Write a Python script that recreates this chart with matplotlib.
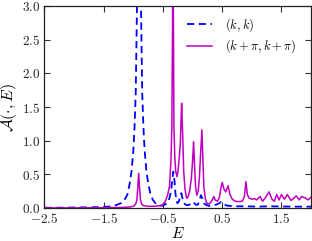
import matplotlib
matplotlib.use("Agg")
import matplotlib.pyplot as plt
from matplotlib.ticker import FixedLocator, FuncFormatter

plt.rcParams['mathtext.fontset'] = 'cm'
plt.rcParams['font.family'] = ['DejaVu Serif']

# (k, k) spectral function
E_kk = [-2.5, -2.2, -2.0, -1.8, -1.6, -1.5, -1.4, -1.3, -1.2, -1.15, -1.10, -1.06, -1.03,
        -1.0, -0.98, -0.96, -0.945, -0.93, -0.92, -0.905, -0.89, -0.88, -0.865, -0.85,
        -0.83, -0.81, -0.78, -0.75, -0.71, -0.67, -0.61, -0.55, -0.5, -0.45, -0.42, -0.39,
        -0.365, -0.345, -0.325, -0.305, -0.29, -0.27, -0.255, -0.23, -0.205, -0.19, -0.175,
        -0.15, -0.12, -0.09, -0.05, -0.02, 0.0, 0.03, 0.06, 0.09, 0.12, 0.14, 0.16, 0.19,
        0.23, 0.28, 0.33, 0.4, 0.45, 0.48, 0.52, 0.58, 0.7, 0.9, 1.1, 1.3, 1.5, 1.7, 2.0]
A_kk = [0.003, 0.005, 0.007, 0.010, 0.013, 0.015, 0.022, 0.04, 0.075, 0.12, 0.2, 0.37, 0.55,
        0.86, 1.2, 1.7, 2.6, 3.6, 4.5, 5.0, 4.5, 3.6, 2.6, 1.7,
        1.2, 0.86, 0.55, 0.37, 0.2, 0.12, 0.05, 0.035, 0.035, 0.06, 0.08, 0.15,
        0.24, 0.4, 0.54, 0.4, 0.22, 0.1, 0.07, 0.1, 0.18, 0.22, 0.16,
        0.08, 0.05, 0.04, 0.05, 0.08, 0.09, 0.07, 0.045, 0.05, 0.12, 0.19, 0.15, 0.07,
        0.045, 0.03, 0.035, 0.05, 0.07, 0.09, 0.06, 0.035, 0.025, 0.025, 0.02, 0.025, 0.022, 0.02, 0.02]

# (k+pi, k+pi) spectral function
E_kp = [-2.5, -2.0, -1.5, -1.2, -1.05, -0.99, -0.96, -0.94, -0.925, -0.91, -0.895, -0.88,
        -0.86, -0.83, -0.75, -0.65, -0.55, -0.51, -0.48, -0.45, -0.42, -0.39, -0.365, -0.35,
        -0.34, -0.332, -0.322, -0.315, -0.30, -0.285, -0.264, -0.245, -0.225, -0.207, -0.195,
        -0.185, -0.175, -0.163, -0.15, -0.13, -0.11, -0.096, -0.075, -0.05, -0.02, 0.0, 0.017,
        0.035, 0.05, 0.072, 0.095, 0.115, 0.135, 0.157, 0.175, 0.19, 0.215, 0.24, 0.28, 0.32,
        0.36, 0.38, 0.42, 0.45, 0.48, 0.5, 0.53, 0.56, 0.6, 0.63, 0.67, 0.72, 0.78, 0.84,
        0.875, 0.90, 0.925, 0.95, 1.0, 1.04, 1.08, 1.14, 1.18, 1.22, 1.29, 1.34, 1.38, 1.42,
        1.46, 1.5, 1.55, 1.6, 1.66, 1.7, 1.75, 1.8, 1.84, 1.9, 1.95, 2.0]
A_kp = [0.001, 0.002, 0.004, 0.008, 0.015, 0.03, 0.06, 0.12, 0.3, 0.515, 0.3, 0.12,
        0.06, 0.035, 0.025, 0.025, 0.035, 0.045, 0.07, 0.12, 0.2, 0.32, 0.71, 1.21,
        2.5, 4.0, 2.5, 1.21, 0.75, 0.55, 0.465, 0.55, 0.75, 0.96, 1.3,
        1.555, 1.3, 0.96, 0.55, 0.3, 0.18, 0.144, 0.17, 0.25, 0.45, 0.7, 0.985,
        0.6, 0.32, 0.19, 0.25, 0.45, 0.8, 1.16, 0.7, 0.32, 0.14, 0.07, 0.06, 0.1,
        0.17, 0.12, 0.1, 0.15, 0.3, 0.38, 0.28, 0.24, 0.33, 0.2, 0.13, 0.1, 0.095, 0.1,
        0.17, 0.39, 0.2, 0.15, 0.13, 0.14, 0.12, 0.17, 0.1, 0.14, 0.24, 0.13, 0.1, 0.2,
        0.12, 0.2, 0.13, 0.2, 0.11, 0.14, 0.18, 0.12, 0.17, 0.15, 0.12, 0.16]

xticks = [-2.5, -1.5, -0.5, 0.5, 1.5]
yticks = [0.0, 0.5, 1.0, 1.5, 2.0, 2.5, 3.0]

fig = plt.figure(figsize=(3.12, 2.41), dpi=100)
ax = fig.add_axes([0.1426, 0.137, 0.8544, 0.838])

ax.plot(E_kk, A_kk, color='#0000ff', lw=1.3, ls=(0, (4, 2.5)), label=r'$(k,k)$')
ax.plot(E_kp, A_kp, color='#bf00bf', lw=1.1, label=r'$(k+\pi,k+\pi)$')

ax.set_xlim(-2.5, 2.0)
ax.set_ylim(0, 3.0)
ax.xaxis.set_major_locator(FixedLocator(xticks))
ax.yaxis.set_major_locator(FixedLocator(yticks))
fmt = FuncFormatter(lambda v, p: r'$%.1f$' % v)
ax.xaxis.set_major_formatter(fmt)
ax.yaxis.set_major_formatter(fmt)
ax.tick_params(direction='in', top=True, right=True, length=4, width=0.8,
               labelsize=9.5, pad=3, colors='#333333', labelcolor='#222222')
for s in ax.spines.values():
    s.set_color('#222222')
    s.set_linewidth(0.9)

ax.set_xlabel(r'$E$', fontsize=11, labelpad=0)
ax.set_ylabel(r'$\mathcal{A}(\cdot,E)$', fontsize=11.5)
ax.yaxis.set_label_coords(-0.095, 0.5)

ax.legend(loc='upper right', frameon=False, fontsize=9, handlelength=2.0,
          handletextpad=1.1, borderaxespad=0.4, labelspacing=0.3,
          bbox_to_anchor=(0.985, 1.0))

fig.savefig('out.png', dpi=100)
